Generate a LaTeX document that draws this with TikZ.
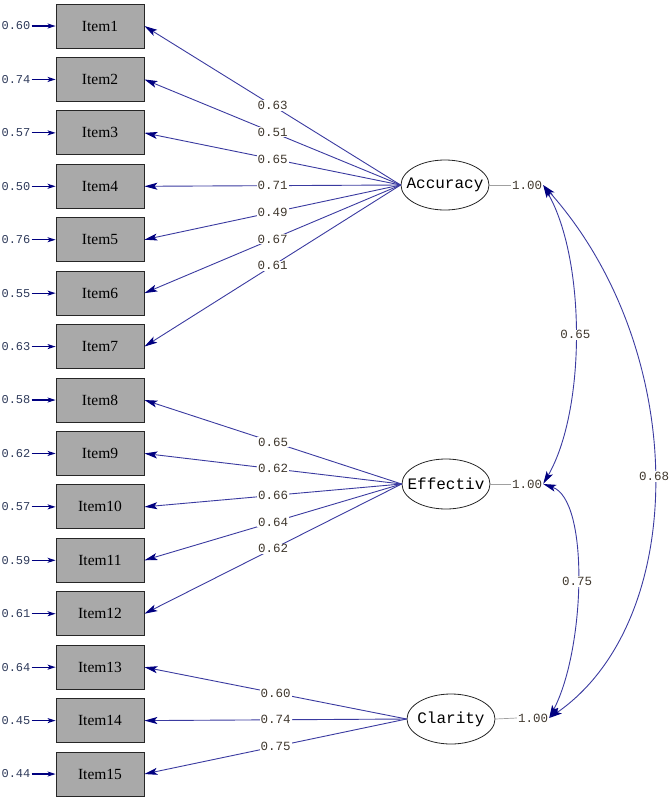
\documentclass[tikz,border=0pt]{standalone}
\usepackage{fontspec}
\setmainfont{Liberation Serif}
\newfontfamily\monof{Liberation Mono}
\usetikzlibrary{arrows.meta,shapes.geometric}
\definecolor{pathblue}{HTML}{3A3AA0}
\definecolor{tipnavy}{HTML}{000080}
\definecolor{boxgray}{HTML}{A9A9A9}
\definecolor{numtxt}{HTML}{40382E}
\definecolor{errtxt}{HTML}{2E3A5A}
\definecolor{varline}{HTML}{A0A0A0}
\tikzset{
  item/.style={draw=black!85, line width=0.8pt, fill=boxgray, minimum width=88pt, minimum height=44pt, inner sep=0pt, font=\fontsize{15.5}{16}\selectfont},
  latent/.style={draw=black!85, line width=0.8pt, ellipse, minimum width=88pt, minimum height=50pt, inner sep=0pt},
  latlab/.style={font=\monof\fontsize{16}{16}\selectfont, inner sep=0pt},
  coef/.style={font=\monof\fontsize{12.5}{13}\selectfont, text=numtxt, fill=white, inner sep=1pt},
  errlab/.style={font=\monof\fontsize{12}{13}\selectfont, text=errtxt, inner sep=1pt, anchor=east},
  varlab/.style={font=\monof\fontsize{12.5}{13}\selectfont, text=numtxt, inner sep=1pt},
  load/.style={draw=pathblue, line width=0.9pt, -{Stealth[length=13pt,width=7pt,inset=3pt,color=tipnavy]}},
  errarrow/.style={draw=tipnavy, line width=1.2pt, -{Stealth[length=8pt,width=5pt,inset=2pt,color=tipnavy]}},
  cov/.style={draw=pathblue, line width=0.9pt, {Stealth[length=13pt,width=7pt,inset=3pt,color=tipnavy]}-{Stealth[length=13pt,width=7pt,inset=3pt,color=tipnavy]}},
  varl/.style={draw=varline, line width=0.7pt}
}
\begin{document}
\begin{tikzpicture}[x=1pt,y=-1pt]
\useasboundingbox (0,0) rectangle (669,798);
% items
\foreach \i [evaluate=\i as \yy using {26+(\i-1)*53.43}] in {1,...,15} {
  \node[item] (i\i) at (100,\yy) {Item\i};
}
% error variances
\foreach \i/\e in {1/0.60,2/0.74,3/0.57,4/0.50,5/0.76,6/0.55,7/0.63,8/0.58,9/0.62,10/0.57,11/0.59,12/0.61,13/0.64,14/0.45,15/0.44} {
  \node[errlab] (e\i) at ([xshift=-24pt]i\i.west) {\e};
  \draw[errarrow] (e\i.east) -- (i\i.west);
}
% latent variables
\node[latent] (acc) at (445,185) {};
\node[latlab] (accT) at (acc) {Accuracy};
\node[latent] (eff) at (446,484) {};
\node[latlab] (effT) at (eff) {Effectiv};
\node[latent] (cla) at (451,719) {};
\node[latlab] (claT) at (cla) {Clarity};
% variances
\node[varlab] (v1) at (527,185) {1.00};
\node[varlab] (v2) at (527,484) {1.00};
\node[varlab] (v3) at (533,718) {1.00};
\draw[varl] (acc.east) -- (v1.west);
\draw[varl] (eff.east) -- (v2.west);
\draw[varl] (cla.east) -- (v3.west);
% loadings
\foreach \i/\l in {1/0.63,2/0.51,3/0.65,4/0.71,5/0.49,6/0.67,7/0.61} {
  \draw[load] (acc.west) -- node[coef] {\l} (i\i.east);
}
\foreach \i/\l in {8/0.65,9/0.62,10/0.66,11/0.64,12/0.62} {
  \draw[load] (eff.west) -- node[coef] {\l} (i\i.east);
}
\foreach \i/\l in {13/0.60,14/0.74,15/0.75} {
  \draw[load] (cla.west) -- node[coef] {\l} (i\i.east);
}
% covariances
\draw[cov] (v1.east) .. controls (586,260) and (586,410) .. node[coef] {0.65} (v2.east);
\draw[cov] (v1.east) .. controls (690,350) and (690,620) .. node[coef] {0.68} (v3.east);
\draw[cov] (v2.east) .. controls (590,500) and (585,650) .. node[coef] {0.75} (v3.east);
\end{tikzpicture}
\end{document}
